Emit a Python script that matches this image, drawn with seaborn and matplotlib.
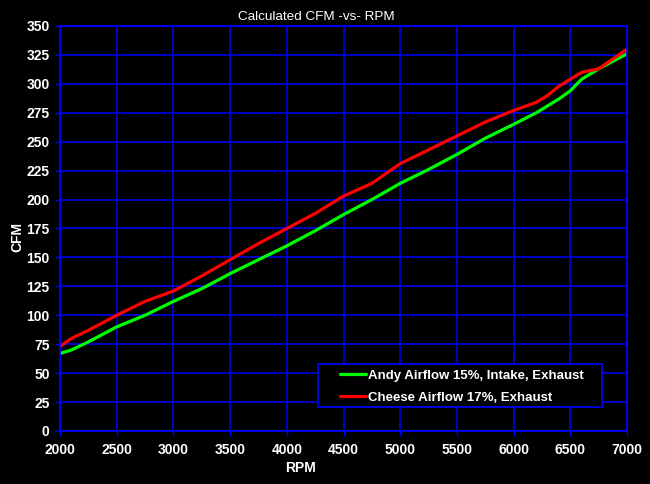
import matplotlib
matplotlib.use("Agg")
import matplotlib.pyplot as plt
from matplotlib.patches import Rectangle
import seaborn as sns
import pandas as pd

rpm = [2000, 2100, 2250, 2500, 2750, 3000, 3250, 3500, 3750, 4000, 4250, 4500,
       4750, 5000, 5250, 5500, 5750, 6000, 6200, 6300, 6400, 6500, 6600, 6750, 7000]
andy = [67, 70, 77, 90, 100, 112, 123, 136, 148, 160, 173, 187,
        200, 214, 226, 239, 253, 265, 275, 281, 287, 294, 304, 313, 326]
cheese = [73, 80, 87, 100, 112, 121, 134, 148, 162, 175, 188, 203,
          214, 231, 243, 255, 267, 277, 284, 290, 298, 304, 310, 313, 330]

series_names = ["Andy Airflow 15%, Intake, Exhaust", "Cheese Airflow 17%, Exhaust"]
x_ticks = list(range(2000, 7001, 500))
y_ticks = list(range(0, 351, 25))

df = pd.DataFrame({
    "RPM": rpm * 2,
    "CFM": andy + cheese,
    "Series": [series_names[0]] * len(rpm) + [series_names[1]] * len(rpm),
})

sns.set_theme(style="dark")
plt.rcParams["font.family"] = ["Liberation Sans", "DejaVu Sans"]

W, H = 650, 484
L, R, T, B = 60, 627, 26, 431
fig = plt.figure(figsize=(W / 100, H / 100), dpi=100, facecolor="black")
ax = fig.add_axes([L / W, 1 - B / H, (R - L) / W, (B - T) / H])
ax.set_facecolor("black")

sns.lineplot(data=df, x="RPM", y="CFM", hue="Series", hue_order=series_names,
             palette=["#00FF00", "#FF0000"], linewidth=2.3, ax=ax, legend=True)

ax.set_xlim(2000, 7000)
ax.set_ylim(0, 350)
ax.set_xticks(x_ticks)
ax.set_yticks(y_ticks)
ax.grid(True, color="#0000FF", linewidth=1.1)
ax.set_axisbelow(True)
for s in ax.spines.values():
    s.set_color("#0000FF")
    s.set_linewidth(1.3)
ax.tick_params(axis="both", colors="#0000FF", length=3.5, width=1, direction="out",
               labelcolor="white", labelsize=10, bottom=True, left=True)
ax.tick_params(axis="x", pad=5)
ax.tick_params(axis="y", pad=4)
for lbl in ax.get_xticklabels() + ax.get_yticklabels():
    lbl.set_fontweight("bold")

ax.set_xlabel("RPM", color="white", fontsize=10, fontweight="bold")
ax.set_ylabel("CFM", color="white", fontsize=10, fontweight="bold")
ax.xaxis.set_label_coords((301 - L) / (R - L), (B - 468) / (B - T))
ax.xaxis.label.set_va("center")
ax.yaxis.set_label_coords((17 - L) / (R - L), (B - 237) / (B - T))
ax.yaxis.label.set_va("center")
ax.yaxis.label.set_ha("center")
fig.text(316.5 / W, 1 - 17.5 / H, "Calculated CFM -vs- RPM", color="white",
         fontsize=9.7, ha="center", va="center")

# legend frame
frame = Rectangle(((318 - L) / (R - L), (B - 407) / (B - T)),
                  (602 - 318) / (R - L), (407 - 364) / (B - T),
                  transform=ax.transAxes, facecolor="black", edgecolor="#0000FF",
                  linewidth=1.2, zorder=4)
ax.add_patch(frame)

leg = ax.legend(loc="upper left", bbox_to_anchor=((340 - L) / (R - L), (B - 369.5) / (B - T)),
                frameon=False, fontsize=9.5, handlelength=2.0, borderpad=0,
                labelspacing=0.75, handletextpad=0.15, borderaxespad=0)
leg.set_zorder(5)
for t in leg.get_texts():
    t.set_color("white")
    t.set_fontweight("bold")

fig.savefig("out.png", dpi=100, facecolor="black")
